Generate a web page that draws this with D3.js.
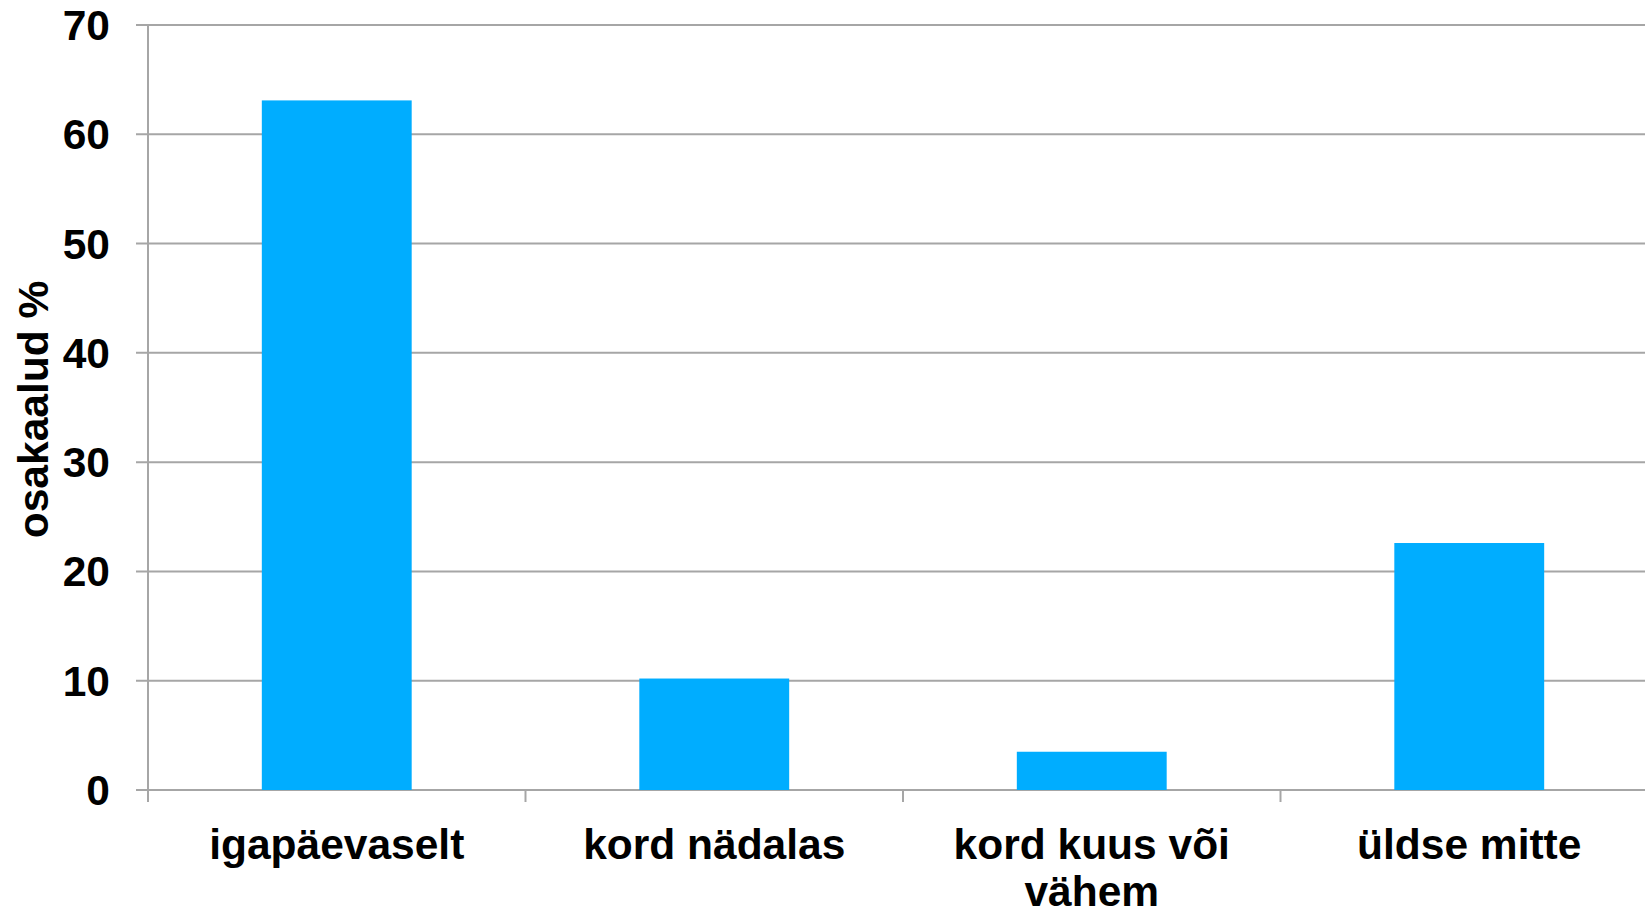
<!DOCTYPE html>
<html>
<head>
<meta charset="utf-8">
<script src="https://cdn.jsdelivr.net/npm/d3@7"></script>
<style>
  body { margin: 0; background: #fff; }
  svg text { font-family: "Liberation Sans", Arial, sans-serif; font-weight: bold; fill: #000; }
</style>
</head>
<body>
<div id="chart"></div>
<script>
// chart data
const categories = ["igapäevaselt", "kord nädalas", "kord kuus või vähem", "üldse mitte"];
const categoryLines = [["igapäevaselt"], ["kord nädalas"], ["kord kuus või", "vähem"], ["üldse mitte"]];
const shares = [63.1, 10.2, 3.5, 22.6];
const yTicks = [0, 10, 20, 30, 40, 50, 60, 70];
const yLabel = "osakaalud %";

const width = 1645, height = 912;
const plotLeft = 148, plotTop = 25, plotBottom = 790;
const bandW = 377.5;
const gridColor = "#a6a6a6";
const fontSize = 42.5;

const svg = d3.select("#chart").append("svg")
    .attr("width", width)
    .attr("height", height);

const x = d3.scaleBand()
    .domain(categories)
    .range([plotLeft, plotLeft + bandW * categories.length])
    .paddingInner(0)
    .paddingOuter(0);

const y = d3.scaleLinear()
    .domain([0, 70])
    .range([plotBottom, plotTop]);

// gridlines with outward ticks
svg.append("g")
    .selectAll("line")
    .data(yTicks)
    .enter()
    .append("line")
    .attr("x1", plotLeft - 12)
    .attr("x2", width)
    .attr("y1", d => y(d))
    .attr("y2", d => y(d))
    .attr("stroke", gridColor)
    .attr("stroke-width", 2);

// y axis line
svg.append("line")
    .attr("x1", plotLeft).attr("x2", plotLeft)
    .attr("y1", plotTop).attr("y2", plotBottom + 12)
    .attr("stroke", gridColor)
    .attr("stroke-width", 2);

// category ticks on x axis
const bounds = categories.map(c => x(c)).concat([x.range()[1]]);
svg.append("g")
    .selectAll("line")
    .data(bounds)
    .enter()
    .append("line")
    .attr("x1", d => d).attr("x2", d => d)
    .attr("y1", plotBottom).attr("y2", plotBottom + 12)
    .attr("stroke", gridColor)
    .attr("stroke-width", 2);

// bars
const barW = bandW * 0.397;
svg.append("g")
    .selectAll("rect")
    .data(shares)
    .enter()
    .append("rect")
    .attr("x", (d, i) => x(categories[i]) + (bandW - barW) / 2)
    .attr("y", d => y(d))
    .attr("width", barW)
    .attr("height", d => plotBottom - y(d))
    .attr("fill", "#00adff");

// y tick labels
svg.append("g")
    .selectAll("text")
    .data(yTicks)
    .enter()
    .append("text")
    .attr("x", 110)
    .attr("y", d => y(d) + 15)
    .attr("text-anchor", "end")
    .attr("font-size", fontSize)
    .text(d => d);

// category labels
const catLabel = svg.append("g")
    .selectAll("text")
    .data(categories)
    .enter()
    .append("text")
    .attr("text-anchor", "middle")
    .attr("font-size", fontSize)
    .attr("x", d => x(d) + bandW / 2)
    .attr("y", 859);
catLabel.each(function(d, i) {
    const t = d3.select(this);
    categoryLines[i].forEach((line, j) => {
        t.append("tspan")
            .attr("x", x(d) + bandW / 2)
            .attr("y", 859 + j * 47)
            .text(line);
    });
});

// y axis title
svg.append("text")
    .attr("transform", "translate(48," + ((plotTop + plotBottom) / 2 + 2) + ") rotate(-90)")
    .attr("text-anchor", "middle")
    .attr("font-size", fontSize)
    .text(yLabel);
</script>
</body>
</html>
